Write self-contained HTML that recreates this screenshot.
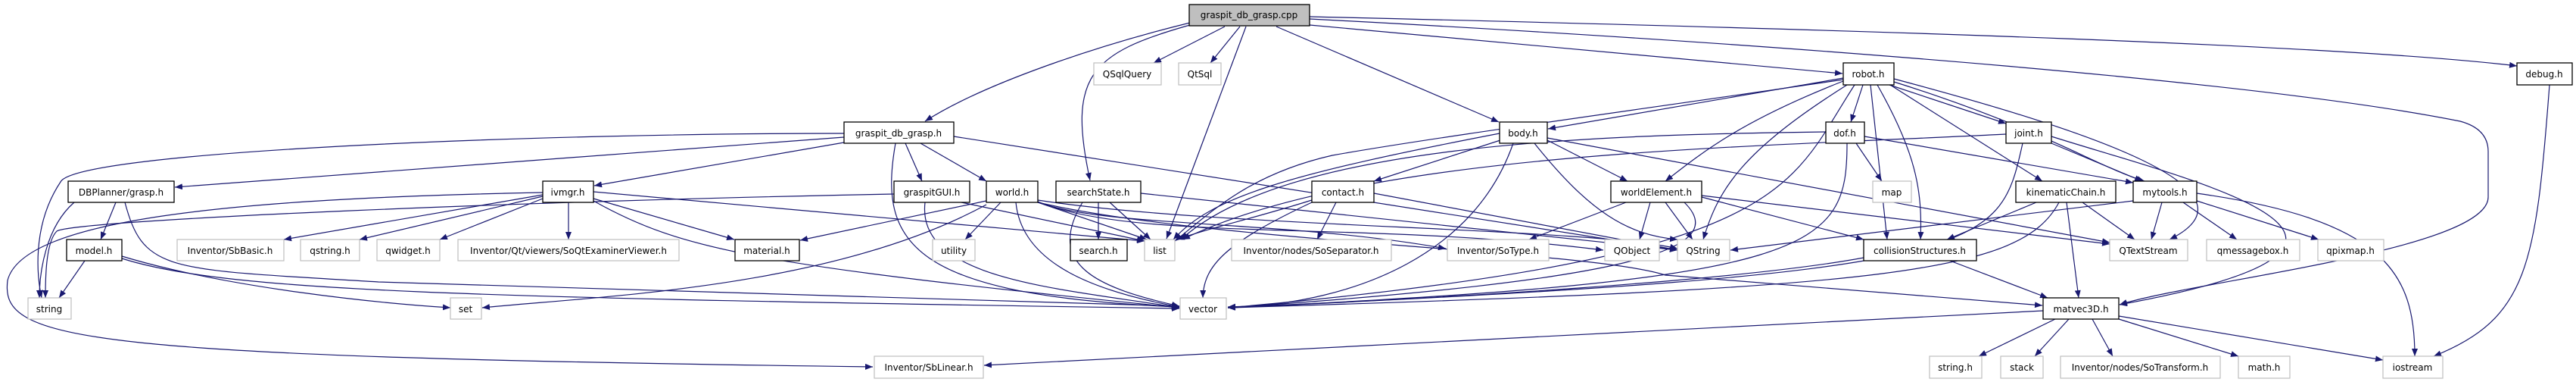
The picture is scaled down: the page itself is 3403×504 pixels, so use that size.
<!DOCTYPE html>
<html><head><meta charset="utf-8"><style>
html,body{margin:0;padding:0;background:#fff;}
svg{display:block;}
text{font-family:"DejaVu Sans","Liberation Sans",sans-serif;font-size:12px;fill:#000;text-anchor:middle;}
.e{fill:none;stroke:#191970;stroke-width:1.2;marker-end:url(#a);}
.n{fill:#fff;stroke:#000;stroke-width:1.3;}
.x{fill:#fff;stroke:#bfbfbf;stroke-width:1.2;}
</style></head><body>
<svg width="3403" height="504" viewBox="0 0 3403 504" xmlns="http://www.w3.org/2000/svg">
<defs><marker id="a" markerWidth="11" markerHeight="8" refX="10" refY="4" orient="auto" markerUnits="userSpaceOnUse"><path d="M0,0 L10,4 L0,8 z" fill="#191970"/></marker></defs>
<g>
<!-- cpp -->
<path class="e" d="M1572,30 C1450,60 1300,110 1222,160"/>
<path class="e" d="M1572,33 C1440,70 1410,100 1440,238"/>
<path class="e" d="M1618,35 L1524,83"/>
<path class="e" d="M1638,35 L1599,83"/>
<path class="e" d="M1646,35 L1541,315"/>
<path class="e" d="M1686,35 L1980,161"/>
<path class="e" d="M1730,33 L2434,97"/>
<path class="e" d="M1730,22 C2500,40 3100,60 3325,87"/>
<path class="e" d="M1730,25 C2400,60 3000,110 3250,160 Q3287,170 3287,200 L3287,260 C3287,330 2900,370 2800,402"/>
<!-- graspit_db_grasp.h -->
<path class="e" d="M1115,176 C700,176 100,200 80,240 C40,300 50,370 55,393"/>
<path class="e" d="M1115,181 L231,247"/>
<path class="e" d="M1115,188 L785,245"/>
<path class="e" d="M1196,189 L1218,239"/>
<path class="e" d="M1216,189 L1303,239"/>
<path class="e" d="M1183,189 C1160,320 1200,390 1558,405"/>
<path class="e" d="M1260,180 L2216,330"/>
<!-- DBPlanner -->
<path class="e" d="M98,267 C60,300 52,360 52,393"/>
<path class="e" d="M153,267 L133,316"/>
<path class="e" d="M165,267 C190,360 220,355 500,372 L1558,404"/>
<!-- model -->
<path class="e" d="M112,344 L78,393"/>
<path class="e" d="M161,338 C300,380 500,400 595,406"/>
<path class="e" d="M161,341 C300,385 600,392 1558,407"/>
<!-- ivmgr -->
<path class="e" d="M717,254 C300,262 30,290 10,370 C0,450 100,470 1153,484"/>
<path class="e" d="M717,257 L375,316"/>
<path class="e" d="M717,259 L475,316"/>
<path class="e" d="M717,262 L581,316"/>
<path class="e" d="M751,267 L751,316"/>
<path class="e" d="M784,262 L970,316"/>
<path class="e" d="M784,253 L1512,318"/>
<path class="e" d="M784,265 C900,330 1000,350 1558,406"/>
<!-- graspitGUI -->
<path class="e" d="M1181,256 C700,265 100,290 75,305 C60,320 60,370 60,393"/>
<path class="e" d="M1270,267 L1512,318"/>
<path class="e" d="M1222,267 C1210,370 1400,380 1558,406"/>
<!-- world -->
<path class="e" d="M1303,265 L1057,317"/>
<path class="e" d="M1303,270 C1100,380 800,390 637,406"/>
<path class="e" d="M1322,267 L1275,316"/>
<path class="e" d="M1371,267 L1515,316"/>
<path class="e" d="M1342,267 C1350,350 1450,385 1558,405"/>
<path class="e" d="M1371,266 C1450,300 1700,290 1910,328"/>
<path class="e" d="M1371,266 C1500,320 1800,290 2118,330"/>
<path class="e" d="M1371,267 C1600,320 2100,330 2200,363 L2698,403"/>
<path class="e" d="M1371,264 C1600,300 2100,300 2216,328"/>
<!-- searchState -->
<path class="e" d="M1451,267 L1451,316"/>
<path class="e" d="M1466,267 L1520,316"/>
<path class="e" d="M1430,267 C1380,350 1450,380 1558,404"/>
<path class="e" d="M1507,255 L2216,330"/>
<!-- contact -->
<path class="e" d="M1733,264 C1650,290 1600,300 1555,316"/>
<path class="e" d="M1765,267 L1740,316"/>
<path class="e" d="M1733,267 C1620,320 1590,350 1589,393"/>
<path class="e" d="M1815,255 L2216,330"/>
<!-- body -->
<path class="e" d="M1981,176 C1700,230 1600,260 1550,316"/>
<path class="e" d="M1982,185 L1815,239"/>
<path class="e" d="M1999,189 C1950,330 1800,400 1622,406"/>
<path class="e" d="M2044,185 L2150,239"/>
<path class="e" d="M2027,189 C2100,280 2150,310 2216,316"/>
<path class="e" d="M2044,182 L2787,320"/>
<!-- robot -->
<path class="e" d="M2435,103 L2045,170"/>
<path class="e" d="M2435,105 C2200,140 1900,180 1760,205 C1650,230 1600,280 1552,318"/>
<path class="e" d="M2435,107 C2300,160 2250,200 2200,239"/>
<path class="e" d="M2440,112 C2300,200 2270,250 2250,316"/>
<path class="e" d="M2450,112 C2360,250 2370,340 1622,406"/>
<path class="e" d="M2461,112 L2445,161"/>
<path class="e" d="M2471,112 L2493,316"/>
<path class="e" d="M2480,112 C2530,200 2540,250 2537,316"/>
<path class="e" d="M2496,112 L2650,163"/>
<path class="e" d="M2497,112 L2698,239"/>
<path class="e" d="M2502,108 C2700,170 2770,220 2833,239"/>
<path class="e" d="M2502,104 C2750,170 3000,250 2866,316"/>
<!-- dof -->
<path class="e" d="M2412,174 C2100,178 1700,190 1560,316"/>
<path class="e" d="M2440,189 C2440,330 2400,370 1622,406"/>
<path class="e" d="M2452,189 L2486,239"/>
<path class="e" d="M2463,180 L2818,241"/>
<!-- joint -->
<path class="e" d="M2650,177 C2300,195 1800,200 1562,316"/>
<path class="e" d="M2672,189 C2640,330 2640,360 1622,406"/>
<path class="e" d="M2710,189 L2830,239"/>
<path class="e" d="M2710,180 C2900,240 3250,320 2800,402"/>
<!-- worldElement -->
<path class="e" d="M2148,267 L2020,316"/>
<path class="e" d="M2180,267 L2166,316"/>
<path class="e" d="M2200,267 L2236,316"/>
<path class="e" d="M2225,267 C2290,330 2150,370 1622,406"/>
<path class="e" d="M2248,260 L2462,316"/>
<path class="e" d="M2248,258 L2787,322"/>
<!-- kinematicChain -->
<path class="e" d="M2690,267 L2572,316"/>
<path class="e" d="M2730,267 L2746,393"/>
<path class="e" d="M2751,267 L2820,316"/>
<path class="e" d="M2720,267 C2670,360 2500,380 1622,406"/>
<!-- mytools -->
<path class="e" d="M2818,265 L2286,330"/>
<path class="e" d="M2856,267 L2842,316"/>
<path class="e" d="M2884,267 L2955,316"/>
<path class="e" d="M2902,265 L3063,316"/>
<path class="e" d="M2902,255 C3150,290 3190,360 3190,470"/>
<!-- collisionStructures -->
<path class="e" d="M2462,340 C2300,370 1900,395 1622,405"/>
<path class="e" d="M2576,344 L2705,393"/>
<!-- matvec3D -->
<path class="e" d="M2699,410 L1300,482"/>
<path class="e" d="M2715,421 L2614,470"/>
<path class="e" d="M2733,421 L2688,470"/>
<path class="e" d="M2764,421 L2791,470"/>
<path class="e" d="M2799,421 L2957,470"/>
<path class="e" d="M2799,417 L3148,475"/>
<!-- debug -->
<path class="e" d="M3368,112 C3350,350 3340,420 3215,470"/>
</g>
<g>
<rect x="1571" y="6" width="159" height="28" fill="#bfbfbf" stroke="#000" stroke-width="1.3"/><text x="1650" y="24">graspit_db_grasp.cpp</text>
<rect class="x" x="1445" y="83" width="89" height="29"/><text x="1489" y="102">QSqlQuery</text>
<rect class="x" x="1557" y="83" width="56" height="29"/><text x="1585" y="102">QtSql</text>
<rect class="n" x="2435" y="83" width="67" height="29"/><text x="2468" y="102">robot.h</text>
<rect class="n" x="3325" y="83" width="73" height="29"/><text x="3361" y="102">debug.h</text>
<rect class="n" x="1115" y="161" width="145" height="28"/><text x="1187" y="180">graspit_db_grasp.h</text>
<rect class="n" x="1981" y="161" width="63" height="28"/><text x="2012" y="180">body.h</text>
<rect class="n" x="2412" y="161" width="51" height="28"/><text x="2437" y="180">dof.h</text>
<rect class="n" x="2650" y="161" width="60" height="28"/><text x="2680" y="180">joint.h</text>
<rect class="n" x="90" y="239" width="140" height="28"/><text x="160" y="258">DBPlanner/grasp.h</text>
<rect class="n" x="717" y="239" width="67" height="28"/><text x="750" y="258">ivmgr.h</text>
<rect class="n" x="1181" y="239" width="100" height="28"/><text x="1231" y="258">graspitGUI.h</text>
<rect class="n" x="1303" y="239" width="68" height="28"/><text x="1337" y="258">world.h</text>
<rect class="n" x="1395" y="239" width="112" height="28"/><text x="1451" y="258">searchState.h</text>
<rect class="n" x="1733" y="239" width="82" height="28"/><text x="1774" y="258">contact.h</text>
<rect class="n" x="2128" y="239" width="120" height="28"/><text x="2188" y="258">worldElement.h</text>
<rect class="x" x="2474" y="239" width="51" height="28"/><text x="2499" y="258">map</text>
<rect class="n" x="2663" y="239" width="132" height="28"/><text x="2729" y="258">kinematicChain.h</text>
<rect class="n" x="2818" y="239" width="84" height="28"/><text x="2860" y="258">mytools.h</text>
<rect class="n" x="88" y="316" width="73" height="28"/><text x="124" y="335">model.h</text>
<rect class="x" x="234" y="316" width="141" height="28"/><text x="304" y="335">Inventor/SbBasic.h</text>
<rect class="x" x="397" y="316" width="78" height="28"/><text x="436" y="335">qstring.h</text>
<rect class="x" x="498" y="316" width="83" height="28"/><text x="539" y="335">qwidget.h</text>
<rect class="x" x="605" y="316" width="292" height="28"/><text x="751" y="335">Inventor/Qt/viewers/SoQtExaminerViewer.h</text>
<rect class="n" x="971" y="316" width="85" height="28"/><text x="1013" y="335">material.h</text>
<rect class="x" x="1232" y="316" width="56" height="28"/><text x="1260" y="335">utility</text>
<rect class="n" x="1414" y="316" width="75" height="28"/><text x="1451" y="335">search.h</text>
<rect class="x" x="1512" y="316" width="40" height="28"/><text x="1532" y="335">list</text>
<rect class="x" x="1627" y="316" width="211" height="28"/><text x="1732" y="335">Inventor/nodes/SoSeparator.h</text>
<rect class="x" x="1912" y="316" width="134" height="28"/><text x="1979" y="335">Inventor/SoType.h</text>
<rect class="x" x="2120" y="316" width="72" height="28"/><text x="2156" y="335">QObject</text>
<rect class="x" x="2216" y="316" width="69" height="28"/><text x="2250" y="335">QString</text>
<rect class="n" x="2462" y="316" width="149" height="28"/><text x="2536" y="335">collisionStructures.h</text>
<rect class="x" x="2787" y="316" width="103" height="28"/><text x="2838" y="335">QTextStream</text>
<rect class="x" x="2915" y="316" width="123" height="28"/><text x="2976" y="335">qmessagebox.h</text>
<rect class="x" x="3062" y="316" width="87" height="28"/><text x="3105" y="335">qpixmap.h</text>
<rect class="x" x="37" y="393" width="57" height="28"/><text x="65" y="412">string</text>
<rect class="x" x="595" y="393" width="41" height="28"/><text x="615" y="412">set</text>
<rect class="x" x="1559" y="393" width="61" height="28"/><text x="1589" y="412">vector</text>
<rect class="n" x="2699" y="393" width="100" height="28"/><text x="2749" y="412">matvec3D.h</text>
<rect class="x" x="1155" y="470" width="144" height="29"/><text x="1227" y="489">Inventor/SbLinear.h</text>
<rect class="x" x="2549" y="470" width="69" height="29"/><text x="2583" y="489">string.h</text>
<rect class="x" x="2643" y="470" width="56" height="29"/><text x="2671" y="489">stack</text>
<rect class="x" x="2722" y="470" width="211" height="29"/><text x="2827" y="489">Inventor/nodes/SoTransform.h</text>
<rect class="x" x="2957" y="470" width="68" height="29"/><text x="2991" y="489">math.h</text>
<rect class="x" x="3148" y="470" width="79" height="29"/><text x="3187" y="489">iostream</text>
</g>
</svg>
</body></html>
